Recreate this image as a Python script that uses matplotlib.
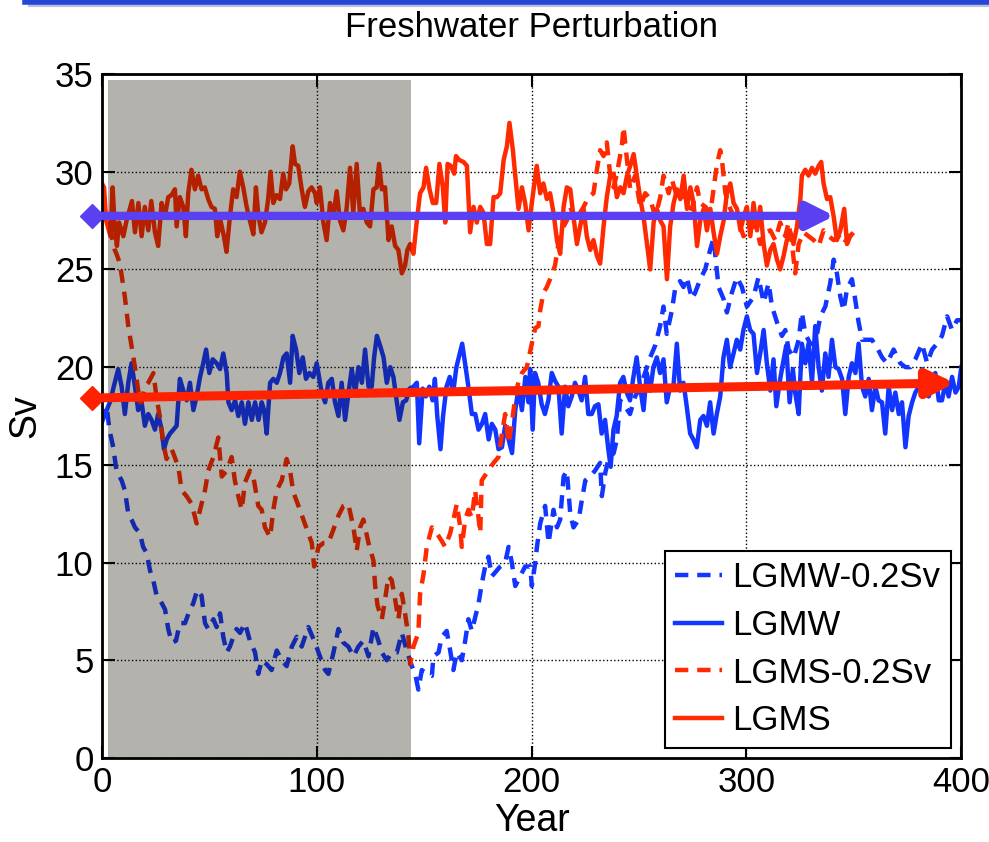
import numpy as np
import matplotlib
matplotlib.use("Agg")
import matplotlib.pyplot as plt
from matplotlib.lines import Line2D
from matplotlib.patches import Rectangle

plt.rcParams['font.family'] = ['Liberation Sans', 'DejaVu Sans']

# -----------------------------
# Data (year, Sv)
# -----------------------------
lgms = [
    (0, 29.4), (1, 29.2), (2, 27.5), (4, 26.7), (5, 29.2), (6, 27.2), (7, 26.2), (8, 27.4), (10, 26.7),
    (11.5, 27.5), (14, 28.5), (15.4, 26.9), (17, 28.4), (18.5, 26.7), (20, 28.2), (21.6, 27.0), (23, 28.5),
    (24.7, 26.9), (26.2, 26.2), (27.8, 28.4), (29.3, 27.7), (30.9, 28.7), (32.4, 28.8), (34, 29.1), (34.8, 27.2),
    (36.3, 28.7), (37.9, 28.2), (39.1, 26.7), (40.2, 28.9), (41.7, 30.1), (43.3, 29.1), (44.8, 29.8), (46.4, 29.1),
    (47.9, 29.2), (49.5, 28.6), (51, 28.2), (52.6, 28.1), (53.7, 26.7), (55.2, 27.5), (56.8, 26.7), (58, 25.9),
    (59.6, 27.7), (61.1, 29.1), (62.7, 28.7), (64.2, 30.0), (65.8, 29.2), (67.4, 28.2), (68.9, 27.5), (70.5, 26.8),
    (71.7, 29.2), (72.8, 27.8), (74.3, 26.9), (75.9, 27.4), (77.4, 28.6), (78.5, 30.0), (79.8, 28.4), (81.3, 28.8),
    (82.9, 28.6), (84.4, 29.9), (85.7, 29.1), (87.2, 29.4), (88.8, 31.3), (89.9, 30.4), (91.4, 30.3), (93, 29.1),
    (94.5, 28.2), (96.1, 29.0), (97.6, 29.2), (99.2, 28.9), (100, 28.4), (101.5, 29.2), (103.1, 27.4), (104.6, 26.5),
    (106.2, 28.4), (107.7, 27.7), (109.3, 29.0), (110.8, 27.5), (112.4, 27.0), (113.9, 28.1), (115.5, 30.2),
    (117, 27.9), (118.6, 30.4), (120.2, 27.7), (121.7, 28.1), (123.3, 27.4), (124.8, 27.2), (126.4, 29.1),
    (127.9, 29.2), (129, 30.4), (130.3, 29.1), (131.8, 29.2), (133.4, 26.5), (134.9, 27.2), (136.5, 26.2),
    (138, 26.0), (139.6, 24.8), (141.1, 25.2), (142.2, 26.0), (143.5, 26.3), (145, 25.8), (146.6, 27.5),
    (148.1, 28.9), (149.7, 29.2), (150.9, 30.2), (152.5, 29.1), (154, 28.4), (155.6, 28.4), (157.1, 30.4),
    (158.7, 29.2), (159.8, 27.4), (160.9, 30.4), (162.4, 30.3), (164, 29.9), (164.8, 30.8), (166.3, 30.6),
    (168.3, 30.5), (169.9, 30.3), (171.4, 26.9), (173, 28.2), (174.5, 27.4), (176.1, 28.2), (177.6, 27.9),
    (179.2, 26.3), (180.7, 26.3), (182.3, 28.7), (183.9, 28.7), (185.4, 28.9), (187, 30.6), (188.5, 31.3),
    (189.7, 32.5), (191.3, 31.1), (192.4, 29.8), (193.9, 28.1), (195.5, 29.2), (197, 28.4), (198.6, 27.0),
    (200.1, 28.4), (202.4, 30.3), (204, 28.9), (205.5, 29.4), (207.1, 28.6), (208.6, 28.9), (210.2, 27.9),
    (211.8, 26.5), (213.3, 25.8), (214.9, 28.2), (216.4, 29.2), (218, 29.1), (219.5, 27.7), (221.1, 26.3),
    (222.6, 27.2), (224.2, 28.1), (225.7, 26.7), (227.3, 26.0), (228.8, 26.5), (230.4, 25.7), (231.9, 25.3),
    (233.5, 27.2), (235, 28.7), (236.6, 29.8), (238.2, 29.9), (239.7, 28.7), (241.3, 29.2), (242.8, 28.9),
    (244.4, 29.8), (245.9, 30.3), (247.5, 30.9), (249, 29.8), (250.6, 28.6), (252.1, 27.7), (253.7, 26.3),
    (255.2, 25.0), (256.8, 27.4), (258.3, 28.1), (259.9, 27.5), (261.4, 27.2), (263, 24.5), (264.5, 27.2),
    (266.1, 28.4), (267.7, 29.1), (269.2, 28.6), (270.8, 29.8), (272.3, 28.1), (273.9, 29.2), (275.4, 28.4),
    (277, 26.2), (278.5, 27.5), (280.1, 28.1), (281.6, 27.0), (283.2, 28.1), (284.7, 26.9), (286.3, 25.8),
    (287.8, 26.7), (289.4, 27.5), (290.9, 28.9), (292.5, 29.4), (294, 28.4), (295.6, 28.1), (297.2, 27.0),
    (298.7, 27.7), (300.2, 28.2), (301.8, 26.7), (303.3, 28.4), (304.9, 27.0), (306.4, 28.2), (308, 26.3),
    (309.5, 25.2), (311.1, 26.0), (312.6, 26.3), (314.2, 25.5), (315.7, 25.0), (317.3, 25.7), (318.8, 26.5),
    (320.4, 26.9), (321.9, 26.3), (323.5, 27.2), (325.1, 28.6), (325.8, 29.8), (327.4, 30.1), (328.9, 29.8),
    (330.5, 30.2), (332, 29.9), (333.6, 30.3), (334.8, 30.5), (335.9, 29.4), (337.5, 28.6), (339, 28.7),
    (340.6, 27.7), (342.1, 26.5), (343.7, 27.0), (345.5, 28.1), (346.8, 26.3), (348.3, 26.7), (349.1, 26.8),
]

lgms_fw = [
    (0, 29.4), (2, 27.5), (4, 27.0), (6, 26.0), (6.8, 25.8), (8.4, 25.3), (10.7, 23.6), (12.3, 22.1), (13.8, 21.1),
    (15.4, 20.0), (16.9, 18.8), (17.7, 18.2), (18.5, 18.2), (20, 19.0), (21.6, 19.2), (24, 19.7), (25.5, 18.4),
    (27.1, 17.4), (28.6, 16.1), (30.1, 15.3), (31.7, 15.6), (32.5, 15.8), (35.6, 14.9), (37.1, 13.7), (39.4, 13.4),
    (41.8, 13.0), (44.1, 12.0), (45.7, 12.7), (48, 13.7), (49.5, 14.7), (51.9, 15.4), (54.2, 16.4), (55.8, 14.4),
    (58.1, 14.7), (60.4, 15.4), (61.9, 14.2), (63.5, 13.4), (65.1, 12.7), (66.6, 14.1), (68.9, 14.7), (70.5, 14.4),
    (72.8, 12.9), (74.4, 12.7), (75.9, 11.8), (78.3, 11.3), (79.8, 12.7), (81.4, 13.7), (83.7, 14.2), (86, 15.3),
    (87.6, 14.7), (89.1, 13.6), (91.5, 12.9), (93.8, 12.2), (96.1, 11.5), (97.7, 11.0), (98.8, 9.8), (100.8, 10.8),
    (103.1, 11.0), (105.4, 11.0), (107.8, 11.7), (110.1, 12.4), (112.4, 12.9), (114.7, 13.0), (117.1, 11.8),
    (118.6, 10.6), (120.2, 11.8), (121.7, 12.2), (124.1, 11.0), (126.4, 10.1), (127.2, 8.8), (128.3, 7.8),
    (130.3, 7.1), (131.8, 8.1), (133.4, 9.3), (134.9, 9.1), (136.5, 8.1), (138, 7.1), (139.6, 8.4), (141.1, 7.4),
    (142.7, 6.2), (143.5, 4.8), (145, 5.7), (147.3, 6.4), (148.1, 8.4), (149.7, 9.4), (151.2, 10.8), (153.6, 11.8),
    (155.9, 11.5), (158.2, 11.1), (159.8, 10.8), (162.1, 11.5), (163.6, 12.2), (165.2, 13.0), (166.8, 11.8),
    (167.5, 10.8), (169.1, 12.2), (170.6, 12.7), (172.2, 12.3), (173.7, 13.7), (175.3, 12.3), (176.1, 11.5),
    (176.8, 14.2), (179.2, 14.6), (182.3, 15.1), (184.6, 15.4), (186.2, 16.6), (187.7, 17.6), (189.3, 16.1),
    (190.8, 17.1), (192.4, 18.5), (194, 19.3), (195.5, 19.7), (197.8, 20.0), (200.1, 21.2), (201.7, 22.0),
    (203.2, 22.1), (204, 22.9), (205.5, 23.8), (207.1, 24.1), (208.6, 24.5), (210.9, 25.2), (212.5, 26.3),
    (214.9, 27.2), (216.4, 27.5), (218, 28.2), (220.3, 27.5), (222.6, 27.9), (224.2, 28.2), (226.5, 28.7),
    (228.8, 28.9), (230.4, 30.1), (231.9, 31.1), (233.5, 30.8), (235, 31.5), (236.6, 29.8), (238.2, 29.2),
    (239.7, 29.9), (242, 31.3), (242.8, 32.3), (244.4, 30.6), (245.9, 29.1), (248.2, 29.8), (250.6, 28.2),
    (252.9, 28.9), (255.2, 28.6), (257.6, 27.7), (259.9, 28.7), (261.4, 29.8), (263.8, 28.9), (265.3, 29.6),
    (267.7, 28.7), (270, 29.1), (272.3, 28.2), (274.6, 28.1), (277, 29.2), (278.5, 28.4), (280.9, 28.2),
    (283.2, 27.9), (284.7, 29.1), (286.3, 30.4), (287.8, 31.1), (288.6, 30.6), (290.2, 28.9), (292.5, 28.1),
    (294.8, 27.5), (297.2, 27.2), (298.6, 26.7), (301.8, 27.0), (304.1, 27.4), (306.4, 26.3), (308.7, 26.9),
    (311.1, 27.0), (313.4, 26.5), (315.7, 27.4), (318.1, 26.7), (319.6, 27.4), (321.2, 26.3), (322.7, 24.8),
    (324.3, 26.3), (326.6, 26.9), (328.9, 26.7), (331.3, 26.5), (333.6, 26.2), (335.9, 27.0), (338.3, 26.7),
    (340.6, 26.5), (342.9, 26.7), (345.2, 26.3), (347.6, 26.7), (349.1, 26.8),
]

lgmw = [
    (0, 17.2), (0.6, 17.5), (2.2, 17.8), (3.7, 18.2), (6, 19.2), (7.6, 19.9), (9.2, 19.0), (10.7, 17.6), (12.3, 19.2),
    (13.8, 20.2), (15.4, 19.0), (16.9, 17.8), (18.5, 18.2), (20, 17.0), (21.6, 17.6), (23.1, 17.3), (24.7, 16.8),
    (26.2, 17.6), (27.8, 16.8), (28.9, 15.8), (30.2, 16.3), (31.7, 16.6), (33.3, 16.8), (34.8, 17.0), (36.3, 19.4),
    (37.9, 18.8), (39.5, 18.3), (41, 19.2), (42.6, 17.8), (44.1, 18.5), (45.7, 19.5), (47.2, 20.2), (48.5, 20.9),
    (50, 19.7), (51.6, 20.4), (53.4, 20.2), (55, 19.9), (56.5, 20.7), (58.1, 19.7), (58.9, 18.2), (60.4, 17.8),
    (62, 18.3), (63.5, 17.5), (65.1, 18.2), (66.6, 17.1), (68.2, 18.2), (69.8, 17.3), (71.3, 18.2), (72.9, 17.3),
    (74.4, 18.2), (75.5, 17.8), (76.7, 16.6), (78.3, 19.2), (79.8, 19.4), (81.4, 19.2), (82.9, 19.7), (84.5, 20.5),
    (86, 20.7), (87.6, 19.2), (88.8, 21.6), (90.4, 20.9), (91.9, 19.7), (93.5, 20.5), (95, 19.4), (96.6, 19.7),
    (98.4, 19.5), (100, 20.2), (102.3, 18.7), (103.9, 18.2), (105.4, 19.2), (107, 19.4), (108.5, 18.2),
    (110.1, 17.5), (111.6, 19.2), (113.2, 17.3), (114.8, 18.7), (116.3, 19.9), (117.9, 18.7), (119.4, 20.0),
    (121, 19.2), (122.5, 20.9), (124.1, 19.0), (125.6, 19.0), (126.7, 20.5), (128, 21.6), (129.5, 21.1),
    (131.1, 20.5), (132.6, 19.2), (134.2, 20.0), (135.7, 19.5), (137.3, 18.2), (138.5, 17.3), (140.1, 18.2),
    (141.6, 18.3), (143.2, 18.9), (145, 19.0), (146.6, 19.2), (147.7, 16.1), (149.3, 18.9), (150.8, 18.5),
    (152.4, 19.0), (153.9, 18.3), (155, 19.4), (156.1, 17.5), (157.6, 15.8), (158.8, 17.5), (160.4, 19.0),
    (161.9, 19.5), (163.5, 18.7), (165, 20.0), (166.6, 20.7), (167.7, 21.2), (169.3, 20.0), (170.7, 18.9),
    (172.2, 17.6), (173.8, 17.6), (175.3, 16.8), (176.9, 17.1), (178.4, 17.6), (180, 16.3), (181.5, 17.1),
    (183.1, 16.8), (184.6, 15.8), (186.2, 15.9), (187.7, 17.0), (189.3, 16.3), (190.9, 15.6), (192.4, 17.8),
    (193.9, 18.9), (195.5, 17.8), (197.1, 19.5), (198.6, 18.2), (199.3, 19.9), (200.5, 16.8), (201.6, 19.7),
    (203.1, 19.2), (204.7, 18.1), (206.2, 17.6), (207.8, 18.3), (209.4, 19.7), (210.9, 19.3), (212.5, 19.0),
    (214, 16.6), (215.6, 19.0), (217.1, 18.0), (218.7, 18.5), (220.2, 19.2), (221.8, 18.8), (223.3, 18.3),
    (224.9, 19.5), (226.4, 17.6), (228, 17.6), (229.5, 18.0), (231.1, 18.1), (232.6, 16.6), (234.2, 17.3),
    (235.7, 15.8), (236.8, 14.9), (238.1, 16.8), (239.6, 17.5), (241.2, 19.2), (242.7, 19.5), (244.3, 18.7),
    (245.8, 18.3), (247.4, 19.5), (248.9, 20.5), (250.5, 19.0), (252.1, 17.8), (253.6, 19.7), (255.2, 18.8),
    (256.7, 20.0), (258.3, 20.5), (259.8, 19.7), (261.4, 20.4), (262.9, 18.2), (264.5, 19.0), (266, 19.0),
    (267.6, 21.2), (269.1, 18.8), (270.7, 19.2), (272.2, 18.0), (273.8, 16.6), (275.3, 16.3), (276.9, 15.9),
    (278.5, 17.3), (280, 17.5), (281.6, 17.0), (283.1, 18.2), (284.7, 16.6), (286.2, 17.6), (287.8, 18.5),
    (289.3, 20.5), (290.9, 21.4), (292.4, 20.0), (294, 20.7), (295.5, 21.4), (297.1, 20.9), (298.6, 21.9),
    (300.2, 22.6), (301.7, 21.9), (303.3, 21.7), (304.9, 19.7), (306.4, 20.7), (308, 21.9), (309.5, 20.2),
    (311.1, 18.8), (312.6, 20.4), (313.9, 18.0), (315.4, 19.2), (317, 20.2), (318.5, 21.1), (320.1, 18.2),
    (321.6, 19.9), (322.7, 18.7), (324.3, 17.6), (325.8, 21.2), (327.4, 20.2), (328.9, 21.2), (330.5, 19.2),
    (332, 22.1), (333.6, 20.0), (335.1, 18.8), (336.7, 20.7), (338.2, 19.5), (339.8, 21.4), (341.4, 20.0),
    (342.9, 19.9), (344.5, 19.4), (346, 17.6), (347.6, 19.5), (349.1, 20.2), (350.7, 19.7), (352.2, 21.2),
    (353.8, 19.0), (355.3, 18.5), (356.9, 19.4), (358.4, 17.8), (360, 19.0), (361.5, 18.3), (363.1, 18.2),
    (364.6, 16.6), (366.2, 19.0), (367.8, 17.8), (369.3, 18.7), (370.9, 17.6), (372.4, 18.2), (374, 15.9),
    (375.5, 17.5), (377.1, 18.2), (378.6, 18.7), (380.2, 19.0), (381.7, 19.9), (383.3, 19.2), (384.8, 18.5),
    (386.4, 19.0), (387.9, 19.7), (389.5, 18.3), (391, 18.3), (392.6, 19.2), (394.1, 18.5), (395.7, 19.5),
    (397.3, 18.7), (398.8, 19.0), (400, 20.0),
]

lgmw_fw = [
    (0, 17.2), (1.5, 17.6), (2.2, 18.0), (3.5, 16.8), (5.3, 15.9), (6.8, 14.7), (9.2, 14.2), (10.7, 13.7),
    (12.3, 12.5), (13.8, 12.2), (15.4, 11.8), (17.7, 11.5), (19.2, 10.8), (20.8, 10.5), (22.4, 9.6), (23.9, 9.1),
    (25.5, 8.3), (27, 8.1), (29.4, 7.6), (30.9, 6.6), (32.5, 5.9), (34.5, 6.0), (36.3, 6.9), (38.7, 6.9), (41, 7.6),
    (42.5, 7.9), (44.4, 8.6), (46.4, 8.3), (48, 6.9), (49.5, 6.6), (51.9, 7.1), (53.4, 6.7), (55, 7.4), (56.5, 6.2),
    (58.1, 5.4), (59.6, 5.7), (61.2, 6.2), (62.7, 6.6), (64.3, 6.4), (66.6, 6.9), (68.9, 6.0), (71.3, 5.4),
    (72.8, 4.3), (74.4, 5.0), (76.7, 4.8), (79, 4.5), (81.4, 5.5), (83.7, 5.0), (86, 4.7), (88.4, 5.7), (90.7, 6.2),
    (93, 5.7), (96.1, 6.7), (99.2, 5.9), (101.5, 5.2), (103.9, 4.5), (105.4, 4.3), (107.8, 5.4), (110.1, 6.6),
    (112.4, 5.9), (114.7, 5.7), (117.1, 5.2), (119.4, 5.7), (121.7, 6.0), (124.1, 5.2), (126.4, 6.7), (128.7, 6.0),
    (130.3, 5.4), (132.6, 5.0), (134.9, 5.4), (137.3, 5.4), (139.6, 6.4), (141.9, 5.5), (144.3, 4.7), (145.8, 4.3),
    (147.3, 3.5), (148.9, 4.5), (151.2, 4.3), (153.6, 4.2), (154.3, 5.2), (156.7, 5.4), (158.2, 6.2), (160.5, 6.5),
    (162.1, 5.5), (163.6, 4.5), (165.2, 5.4), (167.5, 5.0), (169.1, 6.0), (170.6, 7.1), (172.2, 6.5), (175.3, 7.9),
    (176.8, 8.9), (178.4, 9.8), (179.9, 10.3), (181.5, 9.3), (183.1, 9.5), (185.4, 9.8), (187.7, 10.0),
    (189.3, 10.8), (190.8, 10.0), (192.4, 8.8), (194.7, 9.3), (197, 9.8), (199.4, 9.8), (200.1, 8.8),
    (201.7, 10.0), (202.5, 10.8), (204, 12.0), (206.3, 12.9), (207.9, 11.0), (210.2, 12.7), (211.8, 11.8),
    (213.3, 12.2), (214.9, 14.4), (216.4, 14.7), (218, 12.5), (219.5, 11.8), (221.9, 12.2), (223.4, 13.2),
    (225, 14.2), (227.3, 14.4), (229.5, 14.7), (231.9, 15.1), (232.7, 13.4), (234.3, 14.6), (235.8, 15.3),
    (238.2, 15.6), (239.7, 16.3), (241.2, 18.3), (243.5, 18.0), (245.8, 17.6), (248.2, 18.5), (250.5, 19.0),
    (252.8, 19.7), (255.2, 20.5), (257.5, 21.1), (259.8, 22.1), (261.4, 23.1), (262.9, 21.7), (265.3, 22.9),
    (266.8, 24.0), (269.1, 24.4), (270.7, 24.1), (272.2, 24.6), (274.6, 23.5), (276.1, 23.8), (278.5, 24.5),
    (280.8, 25.0), (283.1, 26.0), (284.7, 26.6), (287, 24.1), (289.3, 23.5), (290.9, 22.8), (293.2, 23.8),
    (295.5, 24.6), (297.9, 24.1), (300.2, 23.1), (303.3, 23.6), (305.6, 24.6), (308, 23.3), (310.3, 24.3),
    (311.9, 23.1), (314.2, 22.3), (316.5, 21.6), (318.1, 21.9), (319.6, 20.9), (322, 20.5), (324.3, 21.4),
    (325.8, 22.8), (327.4, 21.7), (329.7, 21.2), (332, 21.2), (334.4, 22.6), (336.7, 23.1), (339, 24.3),
    (340.6, 25.5), (342.1, 24.8), (343.7, 23.6), (345.2, 22.9), (346.8, 24.0), (349.1, 24.5), (350.7, 23.4),
    (352.2, 22.3), (353.8, 21.4), (356.1, 21.4), (358.4, 21.4), (360.8, 21.0), (363.1, 20.5), (365.4, 20.2),
    (368.5, 20.9), (371.6, 20.2), (374, 20.0), (376.3, 20.0), (378.6, 20.4), (381.7, 21.2), (384.1, 20.2),
    (386.4, 20.9), (388.7, 21.2), (391, 21.6), (393.4, 22.6), (395.7, 21.9), (398, 22.4), (400, 22.4),
]

# perturbation period (shaded) and the two trend arrows
shade_years = [2.8, 143.9]
shade_top = 34.7
arrow_blue = [(-4.7, 27.74), (341, 27.74)]
arrow_red = [(-4.7, 18.42), (397, 19.19)]

blue = "#1236ff"
red = "#ff2a00"
dash = (0, (3.0, 2.0))

fig = plt.figure(figsize=(9.89, 8.42), dpi=100)
ax = fig.add_axes([0.103, 0.0998, 0.869, 0.8123])

x, y = np.array(lgmw_fw).T
ax.plot(x, y, color=blue, lw=3.2, ls=dash, label="LGMW-0.2Sv", zorder=2)
x, y = np.array(lgmw).T
ax.plot(x, y, color=blue, lw=3.2, label="LGMW", zorder=2)
x, y = np.array(lgms_fw).T
ax.plot(x, y, color=red, lw=3.2, ls=dash, label="LGMS-0.2Sv", zorder=2)
x, y = np.array(lgms).T
ax.plot(x, y, color=red, lw=3.2, label="LGMS", zorder=2)

# gray box over the perturbation years (darkens the lines below it)
ax.add_patch(Rectangle((shade_years[0], 0), shade_years[1] - shade_years[0], shade_top,
                       facecolor="#181100", alpha=0.32, lw=0, zorder=3))

# trend arrows
for (p0, p1), col, lw in [(arrow_blue, "#5a40f0", 6), (arrow_red, "#ff2200", 6.5)]:
    ax.annotate("", xy=p1, xytext=p0, annotation_clip=False, zorder=4,
                arrowprops=dict(arrowstyle="-|>,head_length=0.8,head_width=0.4",
                                color=col, lw=lw, mutation_scale=20,
                                shrinkA=0, shrinkB=0))
    ax.plot([p0[0]], [p0[1]], marker="D", ms=12, color=col, clip_on=False, zorder=4)

ax.set_xlim(0, 400)
ax.set_ylim(0, 35)
ax.set_xticks([0, 100, 200, 300, 400])
ax.set_yticks([0, 5, 10, 15, 20, 25, 30, 35])
ax.grid(True, ls=":", color="k", lw=1)
ax.tick_params(direction="in", length=9, width=1.5, top=True, right=True, labelsize=25, pad=6)
for s in ax.spines.values():
    s.set_linewidth(2)

ax.set_title("Freshwater Perturbation", fontsize=25, pad=27)
ax.set_xlabel("Year", fontsize=27, labelpad=3)
ax.set_ylabel("Sv", fontsize=27, labelpad=8)

leg = ax.legend(loc="lower right", fontsize=25, frameon=True, fancybox=False,
                edgecolor="k", framealpha=1, handlelength=1.35, handletextpad=0.3,
                labelspacing=0.42, borderpad=0.3, borderaxespad=0.3)
leg.get_frame().set_linewidth(1.5)
leg.set_zorder(5)

# slide frame line at the very top
fig.add_artist(Line2D([0.03, 1.0], [0.9935, 0.9935], color="#b8c2d8", lw=3, transform=fig.transFigure))
fig.add_artist(Line2D([0.025, 1.0], [0.998, 0.998], color="#2646d8", lw=4, transform=fig.transFigure))

fig.savefig("out.png", dpi=100)
